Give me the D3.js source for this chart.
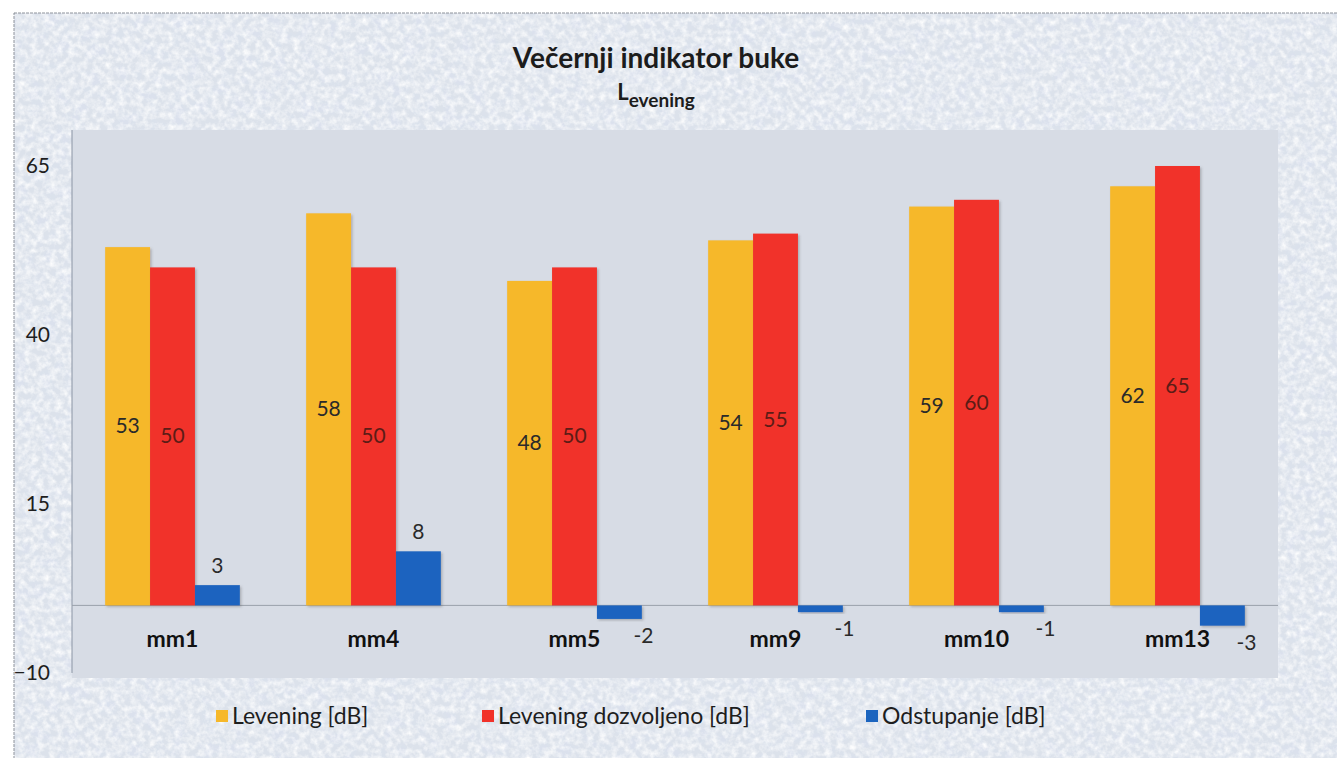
<!DOCTYPE html>
<html>
<head>
<meta charset="utf-8">
<script src="https://cdn.jsdelivr.net/npm/d3@7"></script>
<style>
  html, body { margin: 0; padding: 0; background: #ffffff; }
  svg { display: block; font-family: Lato, "Open Sans", sans-serif; }
</style>
</head>
<body>
<svg id="chart" width="1337" height="758"></svg>
<script>
// ---- data ----
const categories = ["mm1", "mm4", "mm5", "mm9", "mm10", "mm13"];
const seriesNames = ["Levening [dB]", "Levening dozvoljeno [dB]", "Odstupanje [dB]"];
const levening = [53, 58, 48, 54, 59, 62];
const dozvoljeno = [50, 50, 50, 55, 60, 65];
const odstupanje = [3, 8, -2, -1, -1, -3];
const yTicks = [65, 40, 15, -10];
const titleText = "Večernji indikator buke";
const subtitleMain = "L";
const subtitleSub = "evening";

const seriesValues = [levening, dozvoljeno, odstupanje];
const colors = ["#f6b82a", "#f1322a", "#1b64bf"];
const labelColors = ["#2a2a2a", "#5c1c16", "#2a2a2a"];

const W = 1337, H = 758;
const plot = { left: 72, top: 130, right: 1278, bottom: 678 };

const svg = d3.select("#chart");
const defs = svg.append("defs");

// paper texture
const f = defs.append("filter").attr("id", "paper").attr("x", 0).attr("y", 0).attr("width", 1).attr("height", 1);
f.append("feTurbulence").attr("type", "fractalNoise").attr("baseFrequency", 0.16).attr("numOctaves", 3).attr("seed", 7).attr("result", "n");
f.append("feColorMatrix").attr("in", "n").attr("type", "matrix")
  .attr("values", "0 0 0 0 1  0 0 0 0 1  0 0 0 0 1  1.7 0 0 0 -0.6");
const f2 = defs.append("filter").attr("id", "paper2").attr("x", 0).attr("y", 0).attr("width", 1).attr("height", 1);
f2.append("feTurbulence").attr("type", "fractalNoise").attr("baseFrequency", 0.07).attr("numOctaves", 2).attr("seed", 3).attr("result", "n");
f2.append("feColorMatrix").attr("in", "n").attr("type", "matrix")
  .attr("values", "0 0 0 0 0.70  0 0 0 0 0.75  0 0 0 0 0.86  1.6 0 0 0 -0.65");

const shadow = defs.append("filter").attr("id", "shadow").attr("x", -0.1).attr("y", -0.1).attr("width", 1.3).attr("height", 1.3);
shadow.append("feDropShadow").attr("dx", 1.5).attr("dy", 1.5).attr("stdDeviation", 1).attr("flood-color", "#555").attr("flood-opacity", 0.35);

// chart area
svg.append("rect").attr("x", 14).attr("y", 13).attr("width", W).attr("height", H).attr("fill", "#dce2eb");
svg.append("rect").attr("x", 14).attr("y", 13).attr("width", W).attr("height", H).attr("filter", "url(#paper2)");
svg.append("rect").attr("x", 14).attr("y", 13).attr("width", W).attr("height", H).attr("filter", "url(#paper)");
svg.append("rect").attr("x", 14).attr("y", 13).attr("width", W).attr("height", H)
  .attr("fill", "none").attr("stroke", "#8d929b").attr("stroke-width", 1).attr("stroke-dasharray", "3,1");

// plot area
svg.append("rect").attr("x", plot.left).attr("y", plot.top)
  .attr("width", plot.right - plot.left).attr("height", plot.bottom - plot.top)
  .attr("fill", "#d7dce5");

// scales
const y = d3.scaleLinear().domain([-10, 65]).range([673, 166]);
const x = d3.scaleBand().domain(categories).range([plot.left, plot.right]).paddingInner(0.33).paddingOuter(0.165);
const xs = d3.scaleBand().domain(d3.range(seriesNames.length)).range([0, x.bandwidth()]);

// left axis
const yAxis = svg.append("g").attr("transform", `translate(${plot.left},0)`)
  .call(d3.axisLeft(y).tickValues(yTicks).tickSize(0).tickPadding(22).tickFormat(d3.format("d")));
yAxis.select(".domain").attr("stroke", "#8c95a5").attr("d", `M0,${plot.top}V${y(-10)}`);
yAxis.selectAll("text").attr("font-size", 21).attr("fill", "#1e1e1e").attr("font-family", "Lato, sans-serif");

// baseline
svg.append("line").attr("x1", plot.left).attr("x2", plot.right).attr("y1", y(0)).attr("y2", y(0))
  .attr("stroke", "#9aa0ab").attr("stroke-width", 1);

// bars
const rows = [];
categories.forEach((c, i) => seriesValues.forEach((vals, s) => rows.push({ c, s, v: vals[i] })));

svg.append("g").selectAll("rect").data(rows).join("rect")
  .attr("x", d => x(d.c) + xs(d.s))
  .attr("width", xs.bandwidth())
  .attr("y", d => y(Math.max(0, d.v)))
  .attr("height", d => Math.abs(y(d.v) - y(0)))
  .attr("fill", d => colors[d.s])
  .attr("filter", "url(#shadow)");

// data labels
svg.append("g").selectAll("text").data(rows).join("text")
  .attr("font-size", 21)
  .attr("fill", d => labelColors[d.s])
  .attr("text-anchor", d => (d.s === 2 && d.v < 0) ? "start" : "middle")
  .attr("x", d => {
    const cx = x(d.c) + xs(d.s) + xs.bandwidth() / 2;
    if (d.s === 2 && d.v < 0) return cx + 14;
    return cx;
  })
  .attr("y", d => {
    if (d.s < 2) return y(d.v / 2) + 7;
    if (d.v >= 0) return y(d.v) - 12;
    return y(d.v) + 24;
  })
  .text(d => d.v);

// category axis
const xAxis = svg.append("g").attr("transform", `translate(0,${y(0)})`)
  .call(d3.axisBottom(x).tickSize(0).tickPadding(25));
xAxis.select(".domain").remove();
xAxis.selectAll("text").attr("font-size", 23).attr("font-weight", "bold").attr("fill", "#111")
  .attr("font-family", "Lato, sans-serif");

// title
svg.append("text").attr("x", 656).attr("y", 68).attr("text-anchor", "middle")
  .attr("font-size", 28).attr("font-weight", "bold").attr("fill", "#1c1c1c").text(titleText);
const sub = svg.append("text").attr("x", 656).attr("y", 100).attr("text-anchor", "middle")
  .attr("font-weight", "bold").attr("fill", "#1c1c1c");
sub.append("tspan").attr("font-size", 22).text(subtitleMain);
sub.append("tspan").attr("font-size", 19).attr("dy", 7).text(subtitleSub);

// legend
const legendX = [216, 482, 866];
const lg = svg.append("g").selectAll("g").data(seriesNames).join("g")
  .attr("transform", (d, i) => `translate(${legendX[i]},716)`);
lg.append("rect").attr("x", 0).attr("y", -6).attr("width", 12).attr("height", 12).attr("fill", (d, i) => colors[i]);
lg.append("text").attr("x", 16).attr("y", 8).attr("font-size", 23).attr("fill", "#1e1e1e").text(d => d);
</script>
</body>
</html>
